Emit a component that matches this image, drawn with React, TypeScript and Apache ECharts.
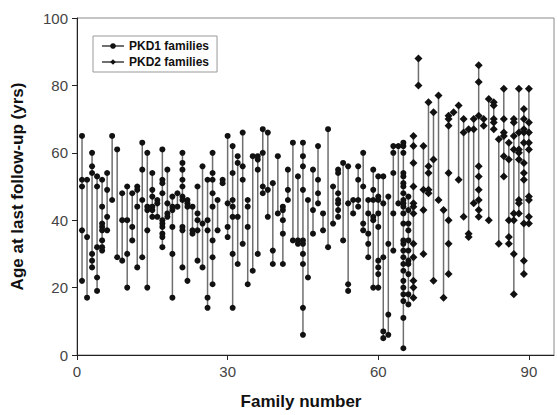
import React, { useEffect, useRef } from "react";
import * as echarts from "echarts";

// Ages at last follow-up for each family (PKD1: families 1-66, PKD2: families 67-90)
const pkd1FirstFamily = 1;
const pkd1Ages: number[][] = [
  [65, 52, 50, 37, 22],
  [52, 35, 17],
  [60, 56, 54, 30, 28, 26],
  [53, 50, 32, 23, 19],
  [52, 44, 39, 38, 37, 34, 32, 31],
  [54, 49, 41, 37],
  [65, 46],
  [61, 29],
  [48, 40, 28],
  [50, 40, 30, 20],
  [48, 38, 34],
  [50, 49, 44, 26],
  [63, 55, 46, 29],
  [60, 44, 43, 37, 20],
  [54, 49, 47, 44, 43, 41],
  [46, 45, 41],
  [61, 52, 51, 48, 40, 39, 38, 36, 35, 32],
  [55, 45, 42, 41],
  [47, 44, 43, 38, 30, 17],
  [48, 44],
  [60, 57, 55, 52, 50, 47, 46, 38, 37, 26],
  [46, 45, 44, 22],
  [44, 37, 36],
  [50, 42, 40, 37, 28],
  [56, 39, 26],
  [52, 40, 37, 17, 14],
  [60, 54, 52, 48, 44, 34, 29, 21],
  [46, 37],
  [52, 51],
  [65, 45, 38, 35],
  [62, 54, 46, 44, 41, 30, 14],
  [59, 57, 41, 27],
  [66, 56, 52, 33],
  [46, 44, 38, 21],
  [59, 25],
  [59, 58, 55, 30],
  [67, 60, 50, 48],
  [66, 49, 41],
  [51, 31, 27],
  [59, 42],
  [44, 43, 40, 36, 27],
  [55, 49, 46],
  [63, 34],
  [53, 34, 33],
  [63, 59, 56, 49, 34, 33, 30, 27, 14, 6],
  [46, 23],
  [55, 43, 36],
  [62, 52, 48, 45],
  [42, 37],
  [67, 32],
  [50, 39],
  [55, 54, 48, 46, 45, 43, 41],
  [57, 34],
  [56, 45, 21, 19],
  [46, 42],
  [56, 52, 46, 44],
  [60, 50, 39, 37],
  [46, 42, 36, 33, 29],
  [55, 49, 46, 41, 40, 20],
  [53, 47, 46, 42, 38, 28, 26, 24, 20],
  [53, 45, 29, 7, 5],
  [47, 33, 12, 6],
  [62, 60, 54, 42, 31],
  [62, 45],
  [63, 62, 60, 54, 53, 51, 50, 48, 46, 45, 44, 42, 39, 34, 33, 31, 29, 27, 25, 22, 20, 18, 16, 11, 2],
  [47, 43, 39, 37, 34, 31, 28, 27, 24, 18, 15],
];

const pkd2FirstFamily = 67;
const pkd2Ages: number[][] = [
  [65, 62, 57, 50, 45, 44, 42, 33, 29, 22, 20, 17],
  [88, 80],
  [62, 49, 43, 30],
  [75, 56, 54, 49, 48],
  [72, 58, 22],
  [77, 46],
  [43, 17],
  [71, 70, 68, 54, 40, 33, 24],
  [72],
  [74, 52],
  [70, 66, 41],
  [67, 36, 35],
  [70, 67, 45],
  [86, 81, 71, 56, 53, 49, 46, 43, 41],
  [70, 68],
  [76, 40],
  [75, 74, 70, 69, 67],
  [64, 33],
  [79, 70, 66, 65, 59, 53],
  [63, 58, 40, 35, 33],
  [70, 69, 65, 61, 42, 40, 30, 18],
  [79, 66, 61, 60, 58, 46, 45, 42],
  [73, 70, 67, 66, 63, 57, 54, 52, 39, 28, 24],
  [79, 69, 66, 63, 61, 47, 46, 41, 39],
];

const xTicks = [0, 30, 60, 90];

function buildLineData(ages: number[][], first: number): any[] {
  const out: any[] = [];
  ages.forEach((vals, i) => {
    const fam = first + i;
    vals.forEach((v) => out.push([fam, v]));
    out.push([fam, "-"]);
  });
  return out;
}

const FONT = "Liberation Sans, Arial, sans-serif";

export default function App() {
  const ref = useRef<HTMLDivElement>(null);
  useEffect(() => {
    if (!ref.current) return;
    const chart = echarts.init(ref.current, null, { renderer: "svg" });
    chart.setOption({
      animation: false,
      backgroundColor: "#ffffff",
      grid: {
        left: 77,
        right: 3,
        top: 18,
        bottom: 56,
        show: true,
        borderColor: "#8a8a8a",
        borderWidth: 1,
      },
      legend: {
        orient: "vertical",
        left: 93,
        top: 36,
        padding: [4, 8, 4, 8],
        itemGap: 4,
        itemWidth: 22,
        itemHeight: 7,
        borderColor: "#999999",
        borderWidth: 1,
        textStyle: { fontFamily: FONT, fontWeight: "bold", fontSize: 12, color: "#111" },
        data: ["PKD1 families", "PKD2 families"],
      },
      xAxis: {
        type: "value",
        min: 0,
        max: 95,
        interval: 30,
        splitLine: { show: false },
        axisLine: { show: true, onZero: false, lineStyle: { color: "#222", width: 1 } },
        axisTick: { show: true, length: 5, lineStyle: { color: "#222" }, customValues: xTicks },
        axisLabel: {
          margin: 9,
          fontFamily: FONT,
          fontSize: 15,
          color: "#444",
          customValues: xTicks,
        },
        name: "Family number",
        nameLocation: "middle",
        nameGap: 38,
        nameTextStyle: {
          fontFamily: FONT,
          fontWeight: "bold",
          fontSize: 17,
          color: "#111",
          padding: [0, 29, 0, 0],
        },
      },
      yAxis: {
        type: "value",
        min: 0,
        max: 100,
        interval: 20,
        splitLine: { show: false },
        axisLine: { show: true, lineStyle: { color: "#222", width: 1 } },
        axisTick: { show: true, length: 5, lineStyle: { color: "#222" } },
        axisLabel: { margin: 9, fontFamily: FONT, fontSize: 15, color: "#444" },
        name: "Age at last follow-up (yrs)",
        nameLocation: "middle",
        nameGap: 51,
        nameTextStyle: { fontFamily: FONT, fontWeight: "bold", fontSize: 17, color: "#111" },
      },
      series: [
        {
          name: "PKD1 families",
          type: "line",
          data: buildLineData(pkd1Ages, pkd1FirstFamily),
          connectNulls: false,
          symbol: "circle",
          symbolSize: 6,
          showSymbol: true,
          itemStyle: { color: "#111" },
          lineStyle: { color: "#6f6f6f", width: 1.5 },
        },
        {
          name: "PKD2 families",
          type: "line",
          data: buildLineData(pkd2Ages, pkd2FirstFamily),
          connectNulls: false,
          symbol: "diamond",
          symbolSize: 8,
          showSymbol: true,
          itemStyle: { color: "#111" },
          lineStyle: { color: "#6f6f6f", width: 1.5 },
        },
      ],
    });
    return () => chart.dispose();
  }, []);
  return <div ref={ref} style={{ width: 557, height: 415, position: "absolute", left: 0, top: 0 }} />;
}
